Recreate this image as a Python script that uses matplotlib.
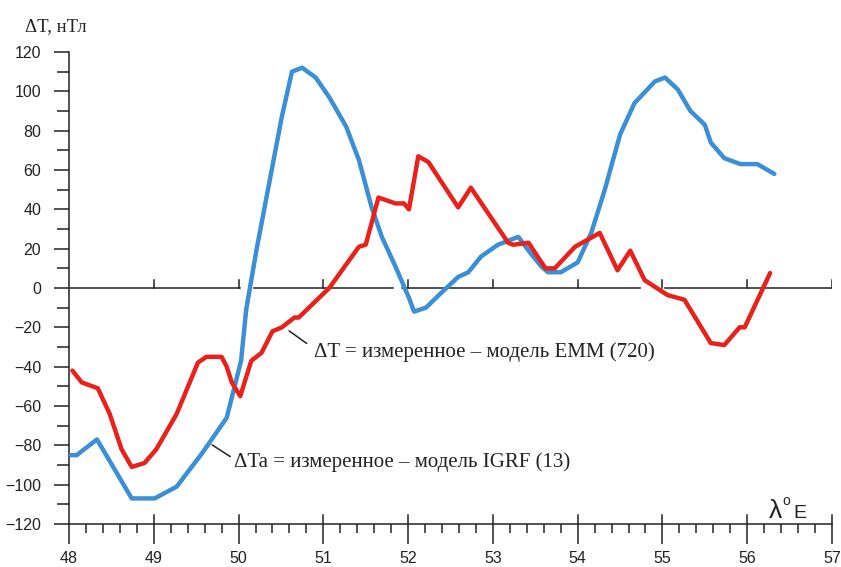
import numpy as np
import matplotlib.pyplot as plt
from matplotlib.ticker import MultipleLocator

# данные
# ΔTa = измеренное - модель IGRF (13)
lon_a = [48.01, 48.09, 48.33, 48.74, 49.01, 49.27, 49.57, 49.86, 50.03, 50.09,
         50.21, 50.36, 50.51, 50.63, 50.75, 50.91, 51.07, 51.27, 51.42, 51.57,
         51.69, 51.85, 52.01, 52.07, 52.21, 52.39, 52.59, 52.71, 52.86, 53.06,
         53.30, 53.42, 53.57, 53.65, 53.80, 54.00, 54.16, 54.32, 54.50, 54.67,
         54.91, 55.03, 55.18, 55.33, 55.50, 55.57, 55.73, 55.92, 56.12, 56.32]
dta = [-85, -85, -77, -107, -107, -101, -84, -66, -37, -11,
       19, 53, 87, 110, 112, 107, 97, 82, 65, 41,
       26, 11, -5, -12, -10, -2.5, 5.6, 8, 16, 22,
       26, 19, 11, 8, 8, 13, 28, 50, 78, 94,
       105, 107, 101, 90, 83, 74, 66, 63, 63, 58]

# ΔT = измеренное - модель EMM (720)
lon_t = [48.04, 48.15, 48.34, 48.48, 48.62, 48.74, 48.89, 49.03, 49.27, 49.52,
         49.62, 49.80, 49.86, 49.92, 50.02, 50.15, 50.27, 50.33, 50.40, 50.51,
         50.66, 50.71, 50.83, 51.07, 51.42, 51.50, 51.65, 51.85, 51.95, 52.01,
         52.12, 52.24, 52.59, 52.74, 53.18, 53.24, 53.42, 53.62, 53.73, 53.97,
         54.26, 54.47, 54.62, 54.79, 55.06, 55.26, 55.57, 55.73, 55.91, 55.97,
         56.27]
dt = [-42, -48, -51, -64, -82, -91, -89, -82, -64, -38,
      -35, -35, -40, -48, -55, -37, -33, -28, -22, -20,
      -15, -15, -10, 0, 21, 22, 46, 43, 43, 40,
      67, 64, 41, 51, 23, 22, 23, 10, 10, 21,
      28, 9, 19, 4, -3.6, -6, -28, -29, -20, -20,
      7.6]

# куски нулевой линии (с разрывами, как на рисунке)
zero_segs = [(48, 50.02), (50.18, 51.82), (51.93, 54.74), (55.03, 57)]

fig = plt.figure(figsize=(8.41, 5.67), dpi=100)
ax = fig.add_axes([69/841, 1-524/567, (832-69)/841, (524-52)/567])

ax.plot(lon_a, dta, color='#3b8fd5', lw=3.2, solid_capstyle='round', zorder=3)
ax.plot(lon_t, dt, color='#e8221b', lw=3.2, solid_capstyle='round', zorder=4)

for a, b in zero_segs:
    ax.plot([a, b], [0, 0], color='#222222', lw=1.1, zorder=2)
for x in range(49, 58):
    ax.plot([x, x], [0, 4], color='#222222', lw=1.1, zorder=2)
    # верхняя часть больших штрихов на оси
    ax.plot([x, x], [-120, -115.5], color='#222222', lw=1.1, clip_on=False)

ax.set_xlim(48, 57)
ax.set_ylim(-120, 120)
ax.spines['top'].set_visible(False)
ax.spines['right'].set_visible(False)
for s in ['left', 'bottom']:
    ax.spines[s].set_linewidth(1.1)
    ax.spines[s].set_color('#222222')

ax.xaxis.set_major_locator(MultipleLocator(1))
ax.xaxis.set_minor_locator(MultipleLocator(0.2))
ax.yaxis.set_major_locator(MultipleLocator(20))
ax.yaxis.set_minor_locator(MultipleLocator(10))
ax.tick_params(axis='x', which='major', length=14.5, width=1.1, pad=5, labelsize=11.5, colors='#222222')
ax.tick_params(axis='x', which='minor', length=6.5, width=1.1, colors='#222222')
ax.tick_params(axis='y', which='major', length=11, width=1.1, pad=9, labelsize=11.5, colors='#222222')
ax.tick_params(axis='y', which='minor', length=8.5, width=1.1, colors='#222222')
for lab in ax.get_xticklabels() + ax.get_yticklabels():
    lab.set_fontfamily('Liberation Sans')

fig.text(25/841, 1-31/567, 'ΔT, нТл', family='Liberation Serif', fontsize=13.5,
         va='baseline', ha='left', color='#222222')

ax.annotate('', xy=(50.57, -21), xytext=(50.83, -29),
            arrowprops=dict(arrowstyle='-', color='#222222', lw=1.1))
ax.text(50.89, -35, 'ΔT = измеренное – модель EMM (720)', family='Liberation Serif',
        fontsize=15, va='baseline', ha='left', color='#222222')

ax.annotate('', xy=(49.66, -79), xytext=(49.93, -86.5),
            arrowprops=dict(arrowstyle='-', color='#222222', lw=1.1))
ax.text(49.95, -91, 'ΔTa = измеренное – модель IGRF (13)', family='Liberation Serif',
        fontsize=15, va='baseline', ha='left', color='#222222')

# подпись оси λ°E
ax.text(56.25, -117, 'λ', family='Liberation Sans', fontsize=19, va='baseline', ha='left', color='#222222')
ax.text(56.42, -110.5, 'o', family='Liberation Sans', fontsize=10, va='baseline', ha='left', color='#222222')
ax.text(56.55, -117, 'E', family='Liberation Sans', fontsize=14, va='baseline', ha='left', color='#222222')

fig.savefig('out.png', dpi=100)
